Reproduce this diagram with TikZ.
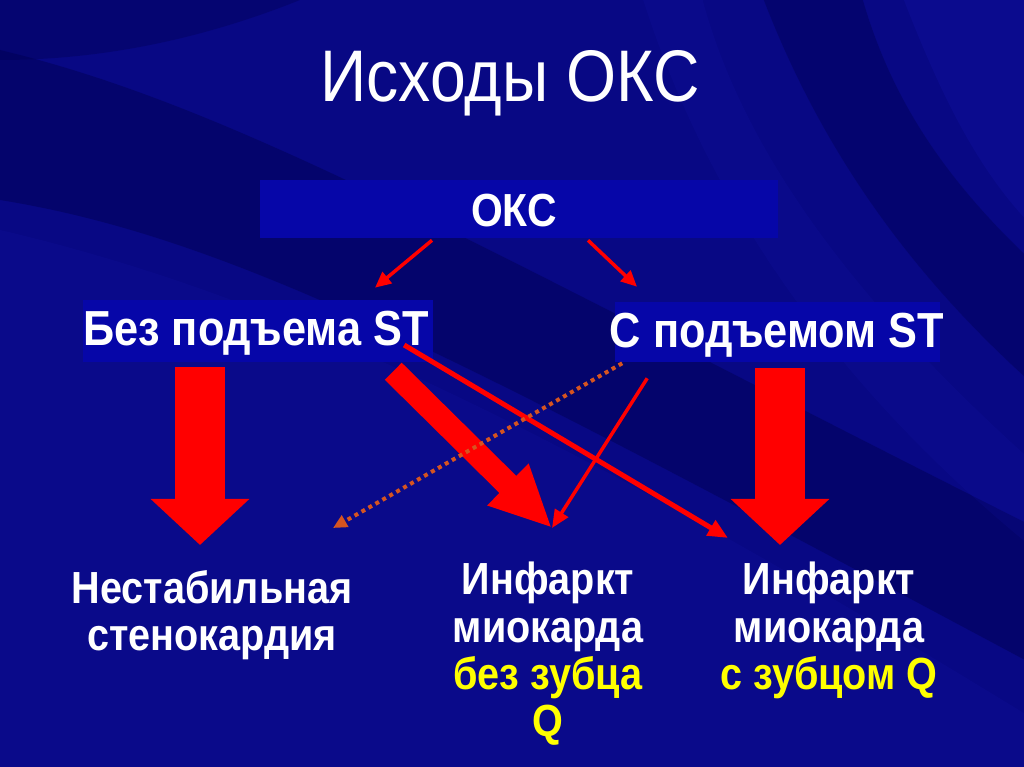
\documentclass[tikz,border=0pt]{standalone}
\usepackage{fontspec}
\setmainfont{Liberation Sans}[FakeStretch=0.88]
\usepackage{xcolor}
\definecolor{slideblue}{RGB}{8, 8, 132}
\definecolor{darkblue}{RGB}{0, 0, 80}
\definecolor{boxblue}{RGB}{6, 6, 168}
\definecolor{streakblue}{RGB}{30, 30, 200}
\definecolor{arrowred}{RGB}{255, 0, 0}
\definecolor{dotorange}{RGB}{214, 84, 32}
\definecolor{qyellow}{RGB}{255, 255, 0}
\usepackage{tikz}
\usetikzlibrary{
    arrows.meta,
    positioning,
    calc
}

\tikzset{
    lbl/.style={text=white, font=\bfseries\fontsize{35}{40}\selectfont, inner sep=0pt},
    outcome/.style={text=white, align=center, font=\bfseries\fontsize{32}{33.5}\selectfont, inner sep=0pt},
    bluebox/.style={fill=boxblue, inner sep=0pt},
    thinarrow/.style={arrowred, line width=3.5*0.025cm, -{Triangle[length=0.4cm, width=0.36cm]}},
    fatarrow/.style={arrowred, line width=1.25cm, -{Triangle[length=1.15cm, width=2.4cm]}}
}

\begin{document}
\begin{tikzpicture}[x=0.025cm, y=-0.025cm]
    \useasboundingbox (0,0) rectangle (1024,767);
    % background
    \begin{scope}
        \clip (0,0) rectangle (1024,767);
        \fill[slideblue] (0,0) rectangle (1024,767);
        \fill[darkblue, opacity=0.45] (0,50) .. controls (250,110) and (500,260) .. (1100,560) -- (1100,700) .. controls (500,380) and (250,240) .. (0,200) -- cycle;
        \fill[darkblue, opacity=0.35] (0,0) -- (300,0) .. controls (200,40) and (100,60) .. (0,60) -- cycle;
        \fill[darkblue, opacity=0.4] (760,-10) .. controls (820,150) and (920,300) .. (1100,440) -- (1100,320) .. controls (950,200) and (890,100) .. (860,-10) -- cycle;
        \fill[streakblue, opacity=0.15] (900,-10) .. controls (950,120) and (1000,220) .. (1100,280) -- (1100,-10) -- cycle;
        \fill[streakblue, opacity=0.1] (0,230) .. controls (300,300) and (600,450) .. (1100,760) -- (1100,800) -- (0,800) -- cycle;
        \fill[streakblue, opacity=0.1] (700,-10) .. controls (740,150) and (860,320) .. (1100,520) -- (1100,600) .. controls (800,380) and (690,150) .. (640,-10) -- cycle;
    \end{scope}

    % title
    \node[text=white, font=\fontsize{52}{58}\selectfont, inner sep=0pt] (title) at (510,83) {Исходы ОКС};

    % boxes
    \node[bluebox, minimum width=518*0.025cm, minimum height=58*0.025cm] (okc) at (519,209) {};
    \node[lbl, font=\bfseries\fontsize{33}{38}\selectfont] (okctxt) at (514,211) {ОКС};
    \node[bluebox, minimum width=350*0.025cm, minimum height=62*0.025cm] (noBox) at (258,331) {};
    \node[lbl] (noST) at (256,333) {Без подъема ST};
    \node[bluebox, minimum width=325*0.025cm, minimum height=60*0.025cm] (stBox) at (777,332) {};
    \node[lbl] (withST) at (777,335) {С подъемом ST};

    % outcomes
    \node[outcome, anchor=north] (unstable) at (212,570) {Нестабильная\\стенокардия};
    \node[outcome, anchor=north] (nqmi) at (548,562) {Инфаркт\\миокарда\\\textcolor{qyellow}{без зубца}\\\textcolor{qyellow}{Q}};
    \node[outcome, anchor=north] (qmi) at (829,562) {Инфаркт\\миокарда\\\textcolor{qyellow}{с зубцом Q}};

    % arrow tips
    \coordinate (tipUA) at (333,528);
    \coordinate (tipNQ) at (552,528);
    \coordinate (tipQ) at (728,538);

    % from ОКС
    \draw[thinarrow] ($(okc.south)+(-87,2)$) -- ($(noBox.north)+(117,-12)$);
    \draw[thinarrow] ($(okc.south)+(69,2)$) -- ($(stBox.north)+(-140,-15)$);

    % big arrows
    \draw[fatarrow] ($(noBox.south)+(-58,5)$) -- ($(unstable.north)+(-12,-25)$);
    \draw[fatarrow] ($(stBox.south)+(3,6)$) -- ($(qmi.north)+(-49,-17)$);
    \draw[arrowred, line width=24*0.025cm, -{Triangle[length=1.55cm, width=1.35cm]}] ($(noBox.south east)+(-40,9)$) -- (tipNQ);

    % crossing arrows
    \draw[arrowred, line width=5*0.025cm, -{Triangle[length=0.5cm, width=0.42cm]}] ($(noST.east)+(-25,12)$) -- (tipQ);
    \draw[arrowred, line width=3.5*0.025cm, -{Triangle[length=0.45cm, width=0.38cm]}] ($(stBox.south west)+(33,16)$) -- (tipNQ);
    \draw[dotorange, line width=4*0.025cm, dash pattern=on 4*0.025cm off 4*0.025cm, -{Triangle[length=0.35cm, width=0.32cm]}] ($(stBox.south west)+(8,1)$) -- (tipUA);
\end{tikzpicture}
\end{document}
